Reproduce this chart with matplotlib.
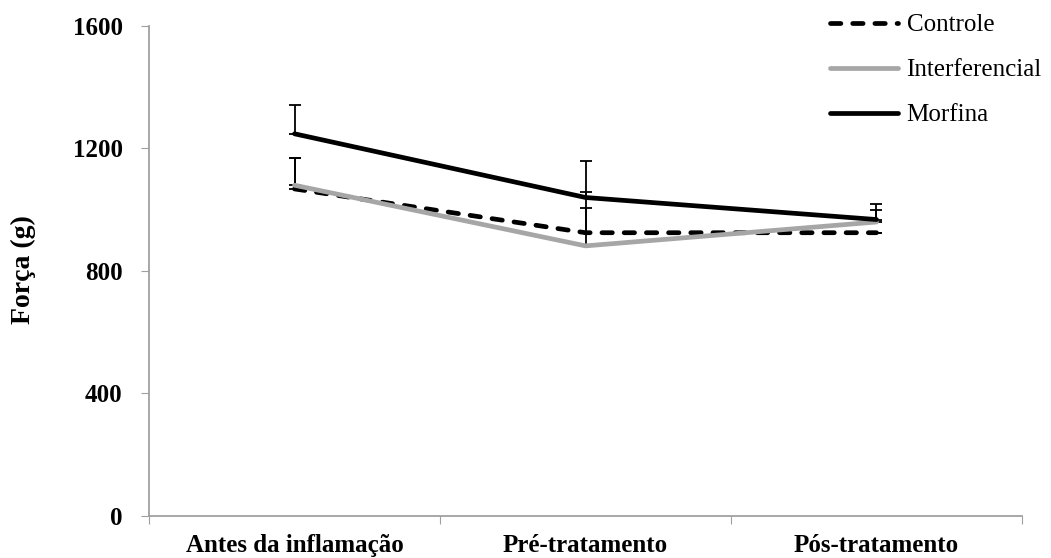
import matplotlib
matplotlib.use("Agg")
import matplotlib.pyplot as plt

plt.rcParams['font.family'] = ['Liberation Serif', 'DejaVu Serif']

categorias = ["Antes da inflamação", "Pré-tratamento", "Pós-tratamento"]
controle = [1068, 925, 925]
interferencial = [1080, 882, 960]
morfina = [1248, 1040, 968]
erro_controle = [100, 132, 0]
erro_interferencial = [90, 125, 40]
erro_morfina = [95, 120, 50]

x = list(range(len(categorias)))

fig = plt.figure(figsize=(10.51, 5.58), dpi=100)
ax = fig.add_axes([0.1418, 0.0753, 0.8306, 0.8781])

# barras de erro (somente para cima)
for vals, errs in [(controle, erro_controle), (interferencial, erro_interferencial), (morfina, erro_morfina)]:
    ax.errorbar(x, vals, yerr=[[0] * len(errs), errs], fmt='none', ecolor='black',
                elinewidth=1.3, capsize=4.5, capthick=1.3, zorder=2)

ax.plot(x, controle, color='black', lw=3.4, ls=(0, (2.2, 2.5)), dash_capstyle='round',
        label='Controle', zorder=3)
ax.plot(x, interferencial, color='#a6a6a6', lw=3.4, solid_capstyle='round',
        label='Interferencial', zorder=3)
ax.plot(x, morfina, color='black', lw=3.4, solid_capstyle='round',
        label='Morfina', zorder=4)

ax.set_xlim(-0.5, 2.5)
ax.set_ylim(0, 1600)
ax.set_yticks([0, 400, 800, 1200, 1600])
ax.set_xticks([-0.5, 0.5, 1.5, 2.5])
ax.set_xticklabels([])
ax.set_xticks(x, minor=True)
ax.set_xticklabels(categorias, minor=True, fontsize=18, fontweight='bold')
ax.tick_params(axis='x', which='minor', length=0, pad=13)
ax.tick_params(axis='x', which='major', direction='out', length=6, color='#a0a0a0')
ax.tick_params(axis='y', direction='out', length=6, color='#a0a0a0', pad=13)
for lab in ax.get_yticklabels():
    lab.set_fontsize(18)
    lab.set_fontweight('bold')

for s in ['top', 'right']:
    ax.spines[s].set_visible(False)
for s in ['left', 'bottom']:
    ax.spines[s].set_color('#a0a0a0')
    ax.spines[s].set_linewidth(1.3)

fig.text(23 / 1051, 1 - 270 / 558, 'Força (g)', rotation=90, ha='center', va='center',
         fontsize=20, fontweight='bold')

leg = ax.legend(loc='upper left', bbox_to_anchor=(830 / 1051, 0.975), bbox_transform=fig.transFigure,
                frameon=False, fontsize=18, handlelength=2.7, handletextpad=0.36,
                labelspacing=0.9, borderaxespad=0, borderpad=0)

fig.savefig('out.png', dpi=100)
